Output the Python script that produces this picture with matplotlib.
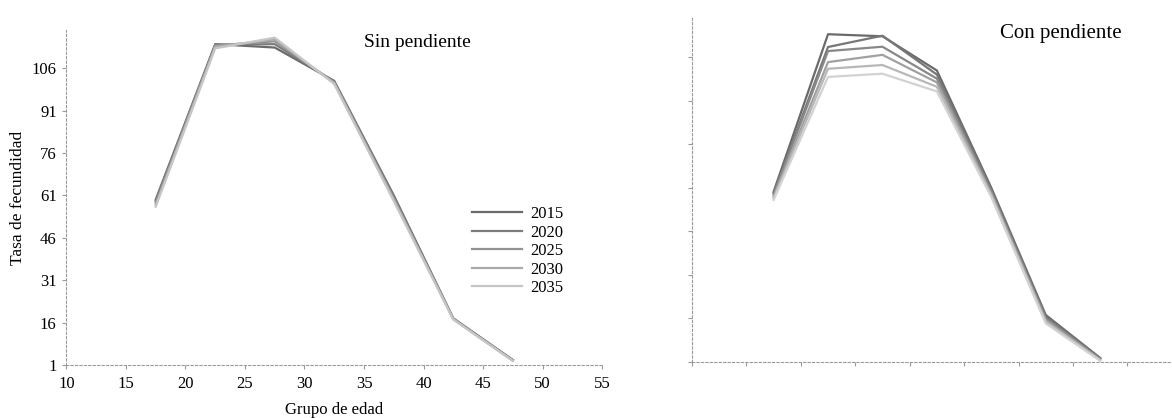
import matplotlib.pyplot as plt

plt.rcParams['font.family'] = ['Liberation Serif', 'DejaVu Serif']

# Grupos de edad (punto medio de cada quinquenio)
edades = [17.5, 22.5, 27.5, 32.5, 37.5, 42.5, 47.5]

# Sin pendiente: tasas por año de proyección
anios = ['2015', '2020', '2025', '2030', '2035']
sin_2015 = [59.5, 114.5, 113.3, 101.5, 61.0, 17.5, 2.8]
sin_2020 = [59.0, 114.3, 114.5, 101.2, 60.5, 17.4, 2.7]
sin_2025 = [58.3, 114.0, 115.5, 101.0, 60.0, 17.3, 2.6]
sin_2030 = [57.6, 113.6, 116.2, 100.7, 59.5, 17.2, 2.5]
sin_2035 = [57.0, 113.0, 116.8, 100.4, 59.0, 17.1, 2.5]
sin_pendiente = [sin_2015, sin_2020, sin_2025, sin_2030, sin_2035]

# Con pendiente
con_1 = [59.6, 113.9, 113.2, 101.4, 61.0, 17.2, 2.4]
con_2 = [59.2, 109.5, 113.4, 100.0, 60.3, 16.6, 2.2]
con_3 = [58.6, 108.1, 109.6, 98.6, 59.6, 16.0, 2.0]
con_4 = [58.0, 104.3, 106.8, 97.3, 59.0, 15.4, 1.8]
con_5 = [57.4, 102.0, 103.3, 95.8, 58.4, 14.9, 1.6]
con_6 = [56.8, 99.2, 100.3, 94.2, 57.8, 14.3, 1.4]
con_pendiente = [con_1, con_2, con_3, con_4, con_5, con_6]

y_ticks = [1, 16, 31, 46, 61, 76, 91, 106]

grises_sin = ['#6a6a6a', '#7c7c7c', '#929292', '#aaaaaa', '#c6c6c6']
grises_con = ['#6a6a6a', '#777777', '#888888', '#a0a0a0', '#b8b8b8', '#d2d2d2']

fig = plt.figure(figsize=(11.72, 4.18), dpi=100)
ax1 = fig.add_axes([0.0567, 0.1268, 0.457, 0.8014])
ax2 = fig.add_axes([0.5904, 0.134, 0.4096, 0.823])


def estilo_ejes(ax):
    for lado in ['top', 'right']:
        ax.spines[lado].set_visible(False)
    for lado in ['left', 'bottom']:
        ax.spines[lado].set_color('#9a9a9a')
        ax.spines[lado].set_linewidth(0.8)
        ax.spines[lado].set_linestyle((0, (2, 2)))
    ax.tick_params(axis='both', colors='#9a9a9a', length=3, width=0.8,
                   labelcolor='black', labelsize=12)
    ax.tick_params(axis='y', pad=4)
    ax.tick_params(axis='x', pad=5)
    ax.set_yticks(y_ticks)
    ax.set_ylim(1, 119.5)


for serie, anio, color in zip(sin_pendiente, anios, grises_sin):
    ax1.plot(edades, serie, color=color, linewidth=1.6, label=anio)
estilo_ejes(ax1)
ax1.set_xlim(10, 55)
ax1.set_xticks(range(10, 56, 5))
ax1.set_ylabel('Tasa de fecundidad', fontsize=12.5)
ax1.yaxis.set_label_coords(-0.076, 0.5)
ax1.set_xlabel('Grupo de edad', fontsize=12)
ax1.xaxis.set_label_coords(0.5, -0.11)
ax1.text(35, 115, 'Sin pendiente', fontsize=14, va='center')
ax1.legend(loc='upper left', bbox_to_anchor=(0.757, 0.474), frameon=False,
           fontsize=12, handlelength=3.0, handletextpad=0.5,
           labelspacing=0.15, borderpad=0, borderaxespad=0)

for serie, color in zip(con_pendiente, grises_con):
    ax2.plot(edades, serie, color=color, linewidth=1.6)
estilo_ejes(ax2)
ax2.set_xlim(10, 54.1)
ax2.set_xticks(range(10, 51, 5))
ax2.tick_params(labelleft=False, labelbottom=False)
ax2.text(38.3, 114.3, 'Con pendiente', fontsize=15, va='center')

fig.savefig('out.png', dpi=100)
